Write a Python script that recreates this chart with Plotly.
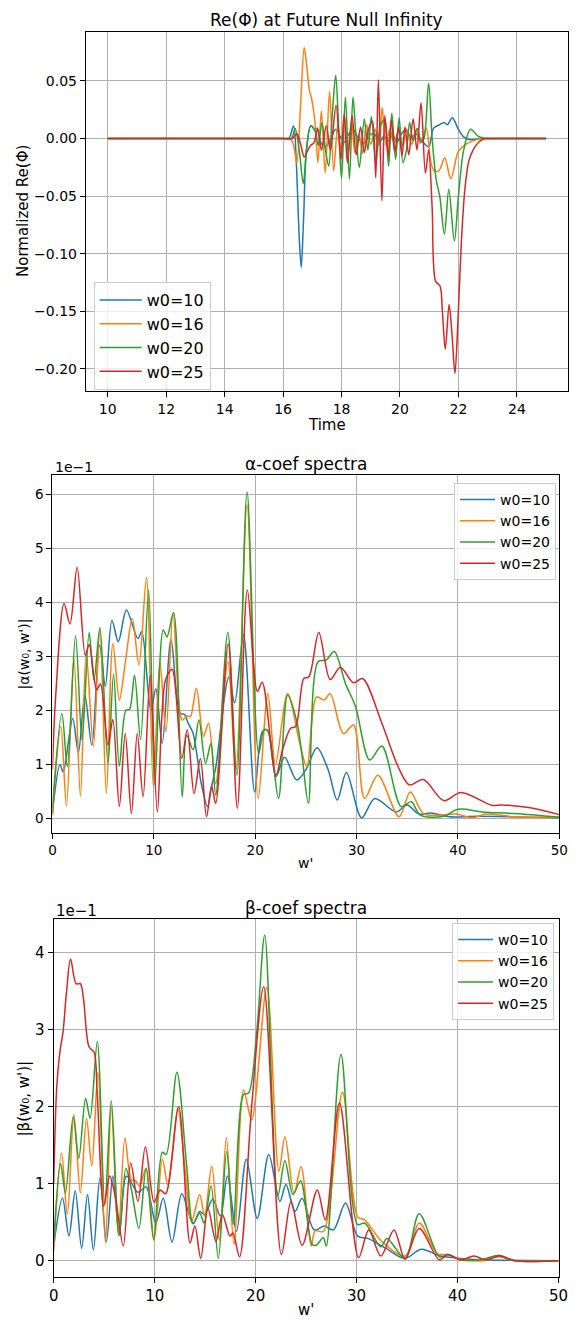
import plotly.graph_objects as go

# ---------------- Panel 1: Re(Phi) at future null infinity ----------------
t_w10 = [10.0, 12.0, 14.0, 15.5, 16.0, 16.15, 16.22, 16.36, 16.45, 16.55, 16.62, 16.7, 16.8, 16.95, 17.08, 17.17, 17.3,
         17.45, 17.6, 17.8, 17.95, 18.1, 18.25, 18.42, 18.6, 18.78, 18.95, 19.12, 19.3, 19.45, 19.6, 19.75, 19.9, 20.05,
         20.2, 20.38, 20.55, 20.75, 20.98, 21.15, 21.35, 21.51, 21.62, 21.79, 22.0, 22.2, 22.42, 22.7, 23.0, 23.5, 24.0,
         25.0]
re_w10 = [0, 0, 0, 0, 0, 0, 0.001, 0.011, -0.02, -0.085, -0.112, -0.07, -0.01, 0.011, 0.008, 0.009, -0.004,
          -0.007, -0.002, 0.008, 0.002, -0.003, 0.004, 0.007, -0.001, -0.004, 0.003, 0.004, -0.003, 0.002, -0.002, 0.003,
          -0.003, 0.004, 0.008, 0.001, 0.004, -0.002, -0.007, 0.009, 0.012, 0.014, 0.012, 0.018, 0.008, 0.001, -0.001,
          0, 0, 0, 0, 0]

t_w16 = [10.0, 12.0, 14.0, 15.5, 16.0, 16.25, 16.35, 16.47, 16.6, 16.72, 16.8, 16.9, 16.98, 17.09, 17.19, 17.31, 17.44,
         17.59, 17.73, 17.87, 17.98, 18.1, 18.22, 18.35, 18.45, 18.6, 18.72, 18.85, 19.0, 19.15, 19.28, 19.39, 19.52,
         19.65, 19.8, 19.95, 20.1, 20.22, 20.4, 20.55, 20.7, 20.9, 21.05, 21.17, 21.33, 21.53, 21.74, 22.0, 22.25, 22.5,
         22.8, 23.1, 23.5, 24.0, 25.0]
re_w16 = [0, 0, 0, 0, 0, 0, -0.005, -0.021, 0.03, 0.079, 0.065, 0.042, 0.034, 0.015, -0.021, 0.024, -0.03,
          0.041, -0.028, 0.012, -0.01, 0.02, -0.012, 0.014, -0.012, 0.003, -0.013, 0.012, -0.005, 0.008, -0.006, 0.027,
          -0.006, 0.008, -0.004, 0.006, -0.006, 0.008, -0.005, 0.007, -0.004, 0.009, -0.02, -0.028, -0.028, -0.017,
          -0.035, -0.011, -0.005, -0.002, 0, 0, 0, 0, 0]

t_w20 = [10.0, 12.0, 14.0, 15.5, 16.0, 16.28, 16.41, 16.55, 16.69, 16.8, 16.94, 17.1, 17.2, 17.33, 17.45, 17.56, 17.68,
         17.8, 17.9, 18.0, 18.13, 18.27, 18.39, 18.5, 18.61, 18.78, 18.9, 19.02, 19.17, 19.32, 19.48, 19.61, 19.72,
         19.85, 19.97, 20.1, 20.22, 20.33, 20.45, 20.59, 20.72, 20.82, 20.98, 21.1, 21.24, 21.36, 21.52, 21.67, 21.86,
         22.0, 22.18, 22.42, 22.67, 22.9, 23.2, 23.6, 24.0, 25.0]
re_w20 = [0, 0, 0, 0, 0, 0, 0.0087, -0.01, -0.039, -0.01, 0.011, 0.006, -0.006, 0.014, -0.01, -0.024, 0.02,
          0.055, 0.01, -0.035, 0.036, -0.035, 0.036, 0.0, -0.025, 0.017, -0.01, 0.019, -0.022, 0.01, 0.017, -0.024, 0.022,
          -0.018, 0.018, -0.021, -0.01, 0.014, -0.002, 0.009, -0.003, 0.0, 0.048, 0.0, -0.036, -0.05, -0.083, -0.044,
          -0.089, -0.05, -0.01, 0.008, 0.002, 0, 0, 0, 0, 0]

t_w25 = [10.0, 12.0, 14.0, 15.5, 16.0, 16.3, 16.47, 16.6, 16.72, 16.85, 16.94, 17.05, 17.18, 17.31, 17.48, 17.62, 17.81,
         17.98, 18.09, 18.2, 18.36, 18.5, 18.65, 18.78, 18.92, 19.06, 19.17, 19.26, 19.38, 19.48, 19.59, 19.7, 19.82,
         19.95, 20.07, 20.17, 20.3, 20.45, 20.58, 20.72, 20.87, 20.98, 21.1, 21.22, 21.37, 21.45, 21.55, 21.68, 21.78,
         21.88, 21.98, 22.1, 22.22, 22.35, 22.5, 22.7, 22.9, 23.2, 23.6, 24.0, 25.0]
re_w25 = [0, 0, 0, 0, 0, 0, 0.004, -0.005, -0.016, -0.01, -0.006, -0.004, 0.008, -0.01, 0.011, -0.01, 0.029,
          -0.018, 0.021, -0.021, 0.02, -0.014, 0.01, -0.012, 0.008, 0.015, -0.034, 0.051, -0.054, 0.02, -0.016, 0.016,
          -0.012, 0.01, -0.015, 0.01, -0.014, 0.017, -0.01, 0.031, -0.03, -0.01, -0.06, -0.124, -0.128, -0.15, -0.183,
          -0.144, -0.17, -0.204, -0.16, -0.09, -0.044, -0.02, -0.01, -0.003, 0, 0, 0, 0, 0]

# ---------------- Panel 2: alpha-coefficient spectra (values in units of 1e-1) ----------------
wa_w10 = [0, 0.74, 1.06, 2.0, 2.56, 3.2, 3.88, 4.65, 5.22, 5.87, 6.5, 7.3, 8.43, 8.81, 9.71, 10.2, 10.83, 11.7, 12.6,
          13.0, 13.4, 13.88, 14.68, 15.3, 15.7, 16.1, 17.4, 17.98, 18.85, 19.95, 20.7, 21.2, 22.05, 22.9, 24.1, 25.0,
          26.1, 27.2, 28.1, 29.0, 30.5, 31.8, 33.9, 35.0, 36.15, 37.3, 39.2, 42.0, 50.0]
a_w10 = [0.09, 1.0, 0.86, 1.85, 1.22, 2.28, 1.36, 3.21, 2.45, 3.67, 3.27, 3.86, 3.33, 3.46, 2.0, 2.4, 1.39, 3.31, 1.94,
         1.93, 1.76, 1.57, 0.65, 0.22, 0.59, 0.93, 2.62, 2.14, 3.4, 0.49, 1.6, 1.64, 0.77, 1.13, 0.71, 0.9,
         1.31, 0.9, 0.34, 0.85, 0.01, 0.37, 0.12, 0.25, 0.08, 0.1, 0.03, 0.04, 0.01]

wa_w16 = [0, 0.83, 1.38, 2.12, 2.76, 3.33, 4.04, 4.68, 5.32, 5.96, 6.6, 7.2, 7.88, 8.53, 9.28, 9.95, 10.6, 11.2, 11.9,
          12.8, 13.3, 13.6, 14.2, 14.9, 15.4, 16.1, 17.3, 18.1, 19.2, 20.3, 21.25, 22.0, 23.2, 24.4, 25.1, 26.06, 26.8,
          27.4, 28.7, 29.7, 30.8, 32.1, 34.2, 35.3, 36.6, 38.2, 39.8, 41.5, 42.7, 45.6, 50.0]
a_w16 = [0.06, 1.7, 0.23, 2.96, 0.41, 3.06, 1.33, 3.52, 0.46, 3.24, 2.19, 2.9, 3.7, 2.84, 4.46, 0.6, 2.9, 1.6, 3.8,
         1.82, 1.9, 1.88, 2.41, 1.52, 1.76, 0.65, 2.9, 0.9, 5.8, 0.37, 2.31, 1.0, 2.31, 1.39, 0.96, 2.25, 2.19,
         2.31, 1.57, 1.73, 0.37, 0.8, 0.03, 0.49, 0.09, 0.06, 0.08, 0.01, 0.08, 0.03, 0.02]

wa_w20 = [0, 0.93, 1.47, 2.28, 2.92, 3.62, 4.1, 4.68, 5.48, 6.03, 6.6, 7.24, 7.6, 8.1, 8.69, 9.49, 10.1, 10.93, 11.3,
          11.95, 12.8, 13.24, 13.88, 14.45, 15.1, 15.64, 16.1, 17.3, 18.2, 19.2, 20.35, 20.9, 21.3, 22.3, 23.2, 24.1,
          24.6, 25.25, 26.2, 27.0, 27.8, 28.9, 29.9, 31.3, 32.5, 34.4, 35.4, 36.3, 38.6, 40.0, 42.4, 45.6, 50.0]
a_w20 = [0.19, 1.94, 0.96, 3.38, 1.45, 3.44, 2.56, 3.53, 1.02, 2.67, 0.97, 2.0, 2.02, 2.65, 1.46, 4.23, 0.62, 3.49, 3.36,
         3.81, 0.4, 1.54, 1.27, 1.82, 1.02, 1.39, 0.43, 3.44, 0.8, 6.04, 1.2, 1.65, 1.6, 0.37, 2.28, 1.8,
         1.2, 0.28, 2.9, 2.93, 3.09, 2.5, 2.07, 1.08, 1.34, 0.22, 0.31, 0.06, 0.04, 0.17, 0.12, 0.09, 0.02]

wa_w25 = [0, 0.3, 1.15, 1.73, 2.44, 3.24, 3.62, 4.36, 4.74, 5.48, 5.96, 6.6, 7.18, 7.79, 8.37, 8.94, 9.65, 10.35, 11.15,
          11.8, 12.76, 13.3, 13.97, 14.6, 15.2, 15.7, 16.1, 17.34, 18.24, 19.23, 20.22, 20.7, 22.05, 22.7, 23.5, 24.0,
          24.8, 25.3, 26.28, 27.4, 28.4, 29.7, 30.6, 32.5, 34.1, 35.2, 36.6, 38.6, 40.3, 43.4, 44.3, 47.0, 50.0]
a_w25 = [0.9, 2.2, 3.98, 3.6, 4.65, 3.02, 3.22, 2.38, 2.49, 1.36, 1.83, 0.22, 1.57, 0.09, 1.57, 0.4, 2.65, 0.12, 2.56,
         2.76, 1.11, 1.64, 0.46, 1.11, 0.03, 0.6, 0.28, 3.23, 0.19, 4.23, 2.35, 2.52, 0.8, 1.27, 1.67, 1.7,
         2.59, 2.62, 3.44, 2.57, 2.8, 2.51, 2.59, 1.76, 0.96, 0.62, 0.72, 0.33, 0.48, 0.24, 0.25, 0.2, 0.07]

# ---------------- Panel 3: beta-coefficient spectra (values in units of 1e-1) ----------------
wb_w10 = [0, 0.87, 1.51, 2.13, 2.77, 3.35, 3.93, 4.57, 5.22, 5.86, 6.5, 7.21, 8.34, 9.15, 10.11, 10.85, 11.72, 12.69,
          13.8, 14.46, 14.94, 15.75, 16.5, 17.2, 18.1, 19.07, 20.16, 21.3, 22.4, 23.0, 23.9, 24.6, 25.8, 26.8, 27.7,
          28.9, 30.1, 31.1, 32.9, 34.8, 36.4, 38.3, 40.3, 43.0, 50.0]
b_w10 = [0.19, 0.81, 0.32, 0.91, 0.16, 0.86, 0.14, 1.07, 0.25, 1.1, 0.34, 1.1, 0.89, 0.96, 0.49, 0.81, 0.24, 0.87,
         0.48, 0.64, 0.6, 0.8, 0.58, 1.1, 0.38, 1.32, 0.55, 1.38, 0.77, 0.99, 0.64, 0.81, 0.4, 0.45, 0.4,
         0.75, 0.32, 0.29, 0.16, 0.03, 0.15, 0.06, 0.03, 0.01, 0.0]

wb_w16 = [0, 0.77, 1.35, 2.0, 2.64, 3.25, 3.77, 4.38, 5.12, 5.7, 6.4, 7.05, 7.7, 8.1, 8.5, 9.15, 9.95, 10.76, 11.3,
          12.3, 13.0, 13.65, 14.46, 14.94, 15.65, 16.4, 17.1, 17.85, 18.8, 19.6, 21.1, 22.3, 22.9, 23.8, 24.5, 25.5,
          25.9, 26.7, 28.6, 30.1, 30.8, 32.5, 34.8, 36.2, 38.0, 39.0, 40.3, 42.5, 44.1, 45.7, 50.0]
b_w16 = [0.12, 1.4, 0.6, 1.9, 0.88, 1.85, 1.23, 2.45, 0.23, 2.0, 0.34, 1.59, 1.05, 1.04, 0.97, 1.2, 0.27, 1.32, 0.99,
         1.97, 1.2, 0.51, 0.86, 0.58, 1.23, 0.27, 1.6, 0.21, 2.22, 1.83, 3.55, 1.16, 1.61, 0.88, 1.22, 0.19,
         0.39, 0.38, 2.19, 0.57, 0.53, 0.25, 0.06, 0.49, 0.09, 0.08, 0.02, 0.0, 0.05, 0.0, 0.0]

wb_w20 = [0, 0.68, 1.16, 1.93, 2.48, 3.16, 3.6, 4.32, 5.06, 5.7, 6.47, 7.15, 7.7, 8.44, 9.15, 9.9, 10.76, 11.14, 12.2,
          13.17, 13.8, 14.46, 14.88, 15.59, 16.3, 17.13, 17.78, 18.8, 19.3, 20.1, 20.9, 22.2, 22.9, 23.7, 24.45, 25.6,
          26.0, 26.7, 27.0, 28.45, 30.1, 30.8, 32.4, 33.0, 34.8, 36.2, 38.2, 39.1, 40.3, 42.5, 44.1, 45.7, 50.0]
b_w20 = [0.23, 1.26, 0.88, 1.87, 1.33, 2.11, 1.85, 2.85, 0.73, 2.08, 0.32, 1.2, 0.92, 0.42, 1.2, 0.27, 1.41, 1.38, 2.45,
         1.23, 0.49, 0.62, 0.49, 0.97, 0.03, 1.42, 0.47, 2.16, 2.18, 2.96, 4.23, 0.84, 1.3, 0.86, 1.04, 0.21,
         0.2, 0.3, 0.19, 2.68, 0.47, 0.49, 0.18, 0.29, 0.03, 0.61, 0.05, 0.08, 0.01, 0.02, 0.07, 0.0, 0.0]

wb_w25 = [0, 0.3, 0.6, 0.93, 1.26, 1.67, 2.22, 2.64, 2.96, 3.5, 4.0, 4.3, 4.96, 5.54, 6.09, 6.89, 7.63, 8.34, 9.08,
          9.95, 10.53, 11.08, 12.37, 13.5, 13.98, 14.56, 15.27, 16.07, 16.7, 17.46, 17.75, 18.4, 19.6, 20.8, 22.55,
          23.5, 24.6, 26.1, 26.9, 28.3, 30.2, 31.2, 32.4, 33.7, 34.8, 36.2, 38.2, 39.0, 40.3, 41.6, 42.8, 44.1, 45.7, 50.0]
b_w25 = [1.0, 2.26, 2.7, 2.98, 3.48, 3.92, 3.6, 3.6, 3.39, 2.78, 2.71, 2.2, 0.71, 1.1, 0.84, 0.19, 1.27, 0.77, 1.48,
         0.76, 0.92, 0.87, 2.0, 0.23, 0.45, 0.03, 0.68, 0.25, 0.6, 0.32, 0.36, 0.05, 2.0, 3.56, 0.08,
         0.77, 0.2, 0.92, 0.53, 2.05, 0.04, 0.4, 0.06, 0.4, 0.02, 0.42, 0.01, 0.08, 0.01, 0.06, 0.01, 0.06, 0.0, 0.0]

labels = ["w0=10", "w0=16", "w0=20", "w0=25"]
colors = ["#1f77b4", "#ff7f0e", "#2ca02c", "#d62728"]

SCALE = 0.1  # spectra plotted in absolute units; axis shows 1e-1 offset
W, H = 579, 1320
FONT = "DejaVu Sans, Liberation Sans, sans-serif"

fig = go.Figure()

panel1 = [(t_w10, re_w10), (t_w16, re_w16), (t_w20, re_w20), (t_w25, re_w25)]
panel2 = [(wa_w10, a_w10), (wa_w16, a_w16), (wa_w20, a_w20), (wa_w25, a_w25)]
panel3 = [(wb_w10, b_w10), (wb_w16, b_w16), (wb_w20, b_w20), (wb_w25, b_w25)]

for i, (x, y) in enumerate(panel1):
    fig.add_trace(go.Scatter(x=x, y=y, mode="lines", name=labels[i], legend="legend",
                             line=dict(color=colors[i], width=1.5, shape="spline", smoothing=0.9),
                             xaxis="x", yaxis="y"))
for i, (x, y) in enumerate(panel2):
    fig.add_trace(go.Scatter(x=x, y=[v * SCALE for v in y], mode="lines", name=labels[i], legend="legend2",
                             line=dict(color=colors[i], width=1.5, shape="spline", smoothing=0.9),
                             xaxis="x2", yaxis="y2"))
for i, (x, y) in enumerate(panel3):
    fig.add_trace(go.Scatter(x=x, y=[v * SCALE for v in y], mode="lines", name=labels[i], legend="legend3",
                             line=dict(color=colors[i], width=1.5, shape="spline", smoothing=0.9),
                             xaxis="x3", yaxis="y3"))


def px_x(p):
    return p / W


def px_y(p):
    return 1 - p / H


axis_common = dict(showline=True, mirror=True, linecolor="black", linewidth=1.1,
                   ticks="outside", ticklen=5, tickwidth=1.1, tickcolor="black",
                   showgrid=True, gridcolor="#b0b0b0", gridwidth=1, zeroline=False)

y2_ticks = [0, 1, 2, 3, 4, 5, 6]
y3_ticks = [0, 1, 2, 3, 4]

legend_common = dict(xanchor="left", yanchor="top", bgcolor="rgba(255,255,255,0.8)",
                     bordercolor="#cccccc", borderwidth=1)

fig.update_layout(
    width=W, height=H, margin=dict(l=0, r=0, t=0, b=0),
    paper_bgcolor="white", plot_bgcolor="white",
    font=dict(family=FONT, color="black"),
    xaxis=dict(domain=[px_x(83), px_x(578)], range=[9.25, 25.75], anchor="y",
               tickvals=[10, 12, 14, 16, 18, 20, 22, 24], tickfont=dict(size=14), **axis_common),
    yaxis=dict(domain=[px_y(391), px_y(32)], range=[-0.2192, 0.0925], anchor="x",
               tickvals=[-0.20, -0.15, -0.10, -0.05, 0.0, 0.05], tickformat=".2f",
               tickfont=dict(size=14), **axis_common),
    xaxis2=dict(domain=[px_x(48.7), px_x(569)], range=[0, 50], anchor="y2",
                tickvals=[0, 10, 20, 30, 40, 50], tickfont=dict(size=13.5), **axis_common),
    yaxis2=dict(domain=[px_y(833), px_y(475)], range=[-0.027, 0.6357], anchor="x2",
                tickvals=[v * SCALE for v in y2_ticks], ticktext=[str(v) for v in y2_ticks],
                tickfont=dict(size=13.5), **axis_common),
    xaxis3=dict(domain=[px_x(50), px_x(568.3)], range=[0, 50], anchor="y3",
                tickvals=[0, 10, 20, 30, 40, 50], tickfont=dict(size=15), **axis_common),
    yaxis3=dict(domain=[px_y(1276.7), px_y(919.3)], range=[-0.0208, 0.4437], anchor="x3",
                tickvals=[v * SCALE for v in y3_ticks], ticktext=[str(v) for v in y3_ticks],
                tickfont=dict(size=15), **axis_common),
    legend=dict(x=px_x(91), y=px_y(282), itemwidth=42, font=dict(size=16, family=FONT), **legend_common),
    legend2=dict(x=px_x(461), y=px_y(483), itemwidth=35, font=dict(size=14, family=FONT), **legend_common),
    legend3=dict(x=px_x(459), y=px_y(923), itemwidth=35, font=dict(size=14, family=FONT), **legend_common),
)

annotations = [
    dict(text="Re(Φ) at Future Null Infinity", x=px_x(330.5), y=px_y(20), font=dict(size=17)),
    dict(text="Time", x=px_x(330.5), y=px_y(425), font=dict(size=15)),
    dict(text="Normalized Re(Φ)", x=px_x(18.5), y=px_y(211), textangle=-90, font=dict(size=15)),
    dict(text="α-coef spectra", x=px_x(309), y=px_y(464), font=dict(size=17)),
    dict(text="w'", x=px_x(309), y=px_y(863), font=dict(size=14)),
    dict(text="|α(w₀, w')|", x=px_x(20), y=px_y(654), textangle=-90, font=dict(size=14)),
    dict(text="1e−1", x=px_x(49), y=px_y(467), xanchor="left", font=dict(size=14)),
    dict(text="β-coef spectra", x=px_x(309), y=px_y(908), font=dict(size=17)),
    dict(text="w'", x=px_x(309), y=px_y(1310), font=dict(size=15)),
    dict(text="|β(w₀, w')|", x=px_x(20), y=px_y(1098), textangle=-90, font=dict(size=15)),
    dict(text="1e−1", x=px_x(50), y=px_y(911), xanchor="left", font=dict(size=15)),
]
for a in annotations:
    a.setdefault("xanchor", "center")
    a.update(xref="paper", yref="paper", yanchor="middle", showarrow=False)
fig.update_layout(annotations=annotations)

fig.write_html("out.html")
